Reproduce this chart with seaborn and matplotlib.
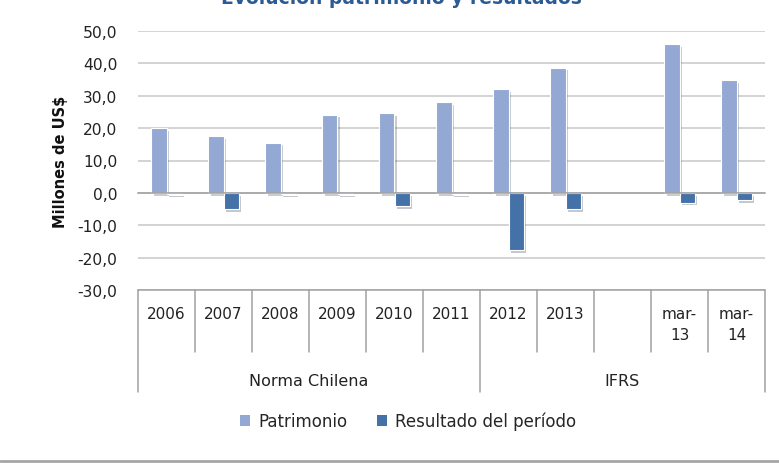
import numpy as np
import pandas as pd
import matplotlib.pyplot as plt
import matplotlib.patheffects as pe
from matplotlib.patches import Patch
from matplotlib.lines import Line2D
import seaborn as sns

# data (millones de US$)
categorias = ['2006', '2007', '2008', '2009', '2010', '2011', '2012', '2013', 'vacio', 'mar-13', 'mar-14']
etiquetas = ['2006', '2007', '2008', '2009', '2010', '2011', '2012', '2013', '', 'mar-\n13', 'mar-\n14']
patrimonio = [20.1, 17.5, 15.5, 24.2, 24.6, 28.1, 32.0, 38.7, np.nan, 45.9, 34.9]
resultado = [-0.3, -5.0, -0.3, -0.3, -4.0, -0.3, -17.7, -5.0, np.nan, -3.0, -2.2]
series = ['Patrimonio', 'Resultado del período']
grupos = ['Norma Chilena', 'IFRS']
limites_grupo = [-0.5, 5.5, 10.5]

colores = ['#93A9D3', '#4471A7']

sns.set_theme(style="white")
plt.rcParams['font.family'] = ['DejaVu Sans']

df = pd.DataFrame({
    'categoria': categorias * 2,
    'serie': [series[0]] * len(categorias) + [series[1]] * len(categorias),
    'valor': patrimonio + resultado,
})

fig = plt.figure(figsize=(7.79, 4.64), dpi=100)
ax = fig.add_axes([138 / 779, 1 - 291 / 464, 627 / 779, 259 / 464])

sns.barplot(data=df, x='categoria', y='valor', hue='serie', order=categorias,
            hue_order=series, palette=colores, saturation=1, width=0.53, gap=0,
            errorbar=None, legend=False, edgecolor='white', linewidth=0.8, ax=ax)

for p in ax.patches:
    p.set_path_effects([pe.SimplePatchShadow(offset=(2, -2), alpha=0.25), pe.Normal()])

ax.set_xlim(-0.5, len(categorias) - 0.5)
ax.set_ylim(-30, 50)
ax.set_yticks(range(-30, 51, 10))
ax.set_yticklabels([f"{v:.1f}".replace('.', ',') for v in range(-30, 51, 10)])
ax.tick_params(axis='y', length=0, labelsize=11.2, labelcolor='#222222', pad=15)
ax.grid(axis='y', color='#C8C8C8', linewidth=1.1)
ax.set_axisbelow(True)

for s in ['left', 'right', 'top']:
    ax.spines[s].set_visible(False)
ax.spines['bottom'].set_position(('data', 0))
ax.spines['bottom'].set_color('#A0A0A0')
ax.spines['bottom'].set_linewidth(1.1)
ax.set_xticks(np.arange(-0.5, len(categorias), 1))
ax.set_xticklabels([])
ax.tick_params(axis='x', direction='out', length=5, color='#A0A0A0', width=1.1)
ax.set_xlabel('')
ax.set_ylabel('Millones de US$', fontsize=10.5, fontweight='bold', color='#111111')
ax.yaxis.set_label_coords(-0.112, 0.5)

# category table below the plot
tr = ax.get_xaxis_transform()
ax.plot([-0.5, len(categorias) - 0.5], [0, 0], transform=tr, clip_on=False,
        color='#A0A0A0', lw=1.1)
for b in np.arange(-0.5, len(categorias), 1):
    fondo = -0.394 if b in limites_grupo else -0.239
    ax.plot([b, b], [0, fondo], transform=tr, clip_on=False, color='#A0A0A0', lw=1.1)
for i, lab in enumerate(etiquetas):
    ax.text(i, -0.062, lab, transform=tr, ha='center', va='top', fontsize=11,
            color='#222222', linespacing=1.5)
for g, a, b in zip(grupos, limites_grupo[:-1], limites_grupo[1:]):
    ax.text((a + b) / 2, -0.3475, g, transform=tr, ha='center', va='center',
            fontsize=11.5, color='#222222')

handles = [Patch(facecolor=c, edgecolor='none') for c in colores]
fig.legend(handles, series, loc='center', bbox_to_anchor=(408 / 779, 1 - 422 / 464),
           ncol=2, frameon=False, fontsize=12, handlelength=0.6, handleheight=0.6,
           handletextpad=0.5, columnspacing=1.8)

fig.text(401 / 779, 1 - 4 / 464, 'Evolución patrimonio y resultados', ha='center',
         va='baseline', fontsize=13.5, fontweight='bold', color='#2A5B97')

fig.add_artist(Line2D([0, 1], [2 / 464, 2 / 464], transform=fig.transFigure,
                      color='#A6A6A6', lw=2))

fig.savefig('out.png', dpi=100)
